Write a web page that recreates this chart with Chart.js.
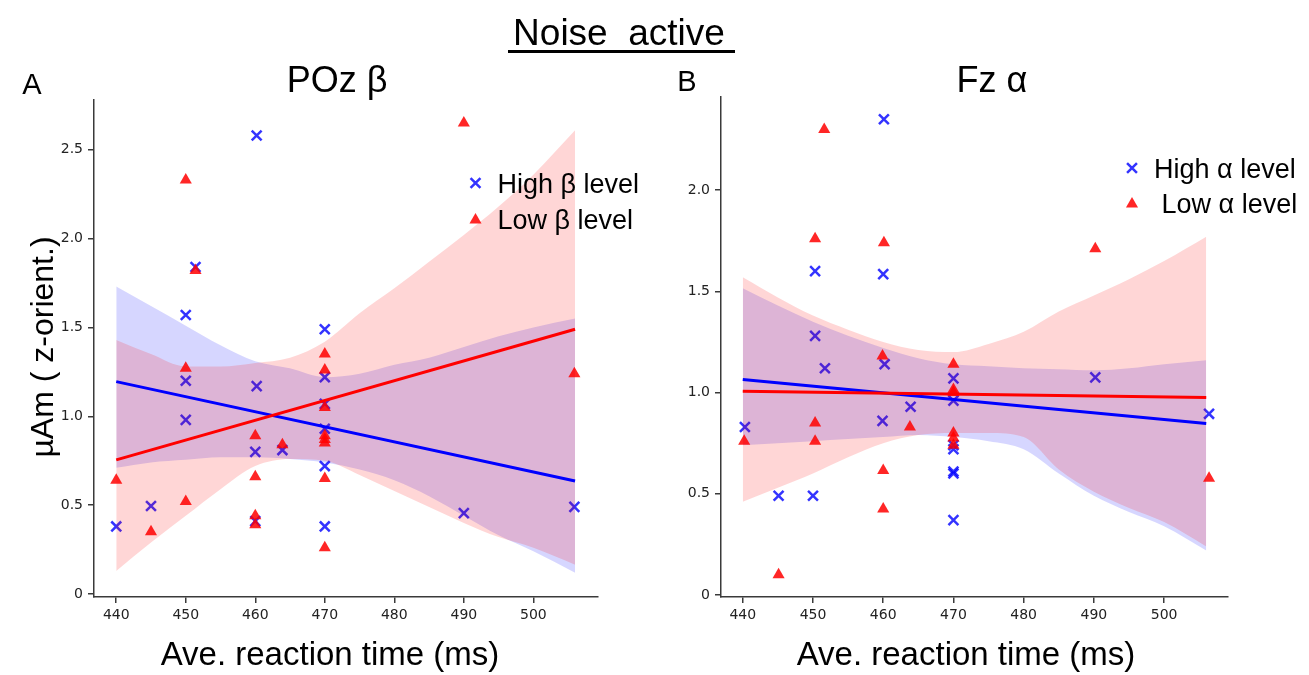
<!DOCTYPE html>
<html>
<head>
<meta charset="utf-8">
<script src="https://cdn.jsdelivr.net/npm/chart.js@4.4.1/dist/chart.umd.min.js"></script>
<style>
  html, body { margin: 0; padding: 0; background: #fff; }
  #fig { position: relative; width: 1309px; height: 675px; overflow: hidden;
         font-family: "Liberation Sans", Arial, sans-serif; color: #000; }
  #fig canvas { position: absolute; left: 0; top: 0; }
  .t { position: absolute; white-space: pre; line-height: 1; transform: translate(-50%, -50%); }
  #rule { position: absolute; left: 508px; top: 50px; width: 227px; height: 3px; background: #000; }
</style>
</head>
<body>
<div id="fig">
  <canvas id="panelA" width="1309" height="675"></canvas>
  <canvas id="panelB" width="1309" height="675"></canvas>
  <div class="t" id="supTitle" style="left:619px; top:32px; font-size:37px;"></div>
  <div id="rule"></div>
  <div class="t" id="tagA" style="left:32px; top:84px; font-size:29px;"></div>
  <div class="t" id="tagB" style="left:687px; top:81px; font-size:29px;"></div>
  <div class="t" id="titleA" style="left:337px; top:80px; font-size:36px;"></div>
  <div class="t" id="titleB" style="left:992px; top:80px; font-size:36px;"></div>
  <div class="t" id="xLabelA" style="left:330px; top:653px; font-size:33px;"></div>
  <div class="t" id="xLabelB" style="left:966px; top:653px; font-size:33px;"></div>
  <div class="t" id="yLabel" style="left:42px; top:347px; font-size:32px; transform: translate(-50%, -50%) rotate(-90deg);"></div>
</div>

<script>
// ---- text ----
const supTitle = 'Noise  active';
const panelTags = ['A', 'B'];
const panelTitles = ['POz β', 'Fz α'];
const xAxisLabel = 'Ave. reaction time (ms)';
const yAxisLabel = 'µAm ( z-orient.)';
const legendA = ['High β level', 'Low β level'];
const legendB = ['High α level', ' Low α level'];

// ---- ticks ----
const xTicks = [440, 450, 460, 470, 480, 490, 500];
const yTicksA = [0, 0.5, 1.0, 1.5, 2.0, 2.5];
const yTicksB = [0, 0.5, 1.0, 1.5, 2.0];

// x positions where the confidence bands are sampled, and ends of the fit lines
const bandX = [440, 445, 450, 455, 460, 465, 470, 475, 480, 485, 490, 495, 500, 506];
const fitX = [440, 506];

// ---- panel A: POz β ----
const aHighX = [440, 445, 450, 450, 450, 451.4, 460.2, 460.2, 460, 460, 463.9, 470, 470, 470, 470, 470, 470, 490, 505.9];
const aHighY = [0.38, 0.495, 1.57, 1.20, 0.98, 1.84, 2.58, 1.17, 0.80, 0.41, 0.81, 1.49, 1.22, 1.07, 0.93, 0.72, 0.38, 0.455, 0.49];
const aLowX = [440, 445, 450, 450, 450, 451.4, 460, 460, 460, 460, 463.9, 470, 470, 470, 470, 470, 470, 470, 470, 490, 505.9];
const aLowY = [0.64, 0.35, 2.33, 1.27, 0.52, 1.82, 0.89, 0.66, 0.44, 0.39, 0.84, 1.35, 1.26, 1.05, 0.89, 0.87, 0.85, 0.65, 0.26, 2.65, 1.24];
const aHighFit = [1.195, 0.636];
const aLowFit = [0.755, 1.49];
const aHighUpper = [1.73, 1.62, 1.51, 1.40, 1.31, 1.27, 1.22, 1.24, 1.29, 1.33, 1.39, 1.45, 1.50, 1.55];
const aHighLower = [0.71, 0.74, 0.755, 0.77, 0.77, 0.76, 0.74, 0.70, 0.64, 0.55, 0.44, 0.33, 0.24, 0.12];
const aLowUpper = [1.43, 1.35, 1.28, 1.28, 1.30, 1.33, 1.42, 1.58, 1.72, 1.87, 2.02, 2.18, 2.36, 2.61];
const aLowLower = [0.13, 0.29, 0.44, 0.59, 0.72, 0.76, 0.75, 0.67, 0.58, 0.49, 0.40, 0.32, 0.26, 0.165];

// ---- panel B: Fz α ----
const bHighX = [440.3, 445.1, 450, 450.3, 450.3, 451.7, 460.1, 460, 460.2, 459.9, 463.9, 470, 470, 470, 470, 470, 470, 470, 490.2, 506.4];
const bHighY = [0.83, 0.49, 0.49, 1.60, 1.28, 1.12, 2.35, 1.585, 1.14, 0.86, 0.93, 1.07, 0.96, 0.74, 0.72, 0.61, 0.60, 0.37, 1.075, 0.895];
const bLowX = [440.2, 445.1, 450.3, 451.6, 450.3, 450.3, 460.1, 459.9, 460, 460, 463.8, 470, 470, 470, 470, 470, 470, 490.2, 506.4];
const bLowY = [0.76, 0.10, 1.76, 2.30, 0.85, 0.76, 1.74, 1.18, 0.615, 0.425, 0.83, 1.14, 1.015, 1.00, 0.80, 0.775, 0.74, 1.71, 0.577];
const bHighFit = [1.064, 0.847];
const bLowFit = [1.006, 0.975];
const bHighUpper = [1.515, 1.43, 1.35, 1.28, 1.22, 1.17, 1.14, 1.13, 1.12, 1.115, 1.11, 1.12, 1.14, 1.16];
const bHighLower = [0.74, 0.75, 0.76, 0.77, 0.78, 0.79, 0.78, 0.76, 0.72, 0.60, 0.49, 0.41, 0.34, 0.22];
const bLowUpper = [1.57, 1.47, 1.38, 1.31, 1.25, 1.21, 1.20, 1.24, 1.30, 1.40, 1.48, 1.56, 1.65, 1.77];
const bLowLower = [0.46, 0.53, 0.60, 0.68, 0.75, 0.79, 0.80, 0.80, 0.78, 0.62, 0.51, 0.43, 0.36, 0.24];

// ---- HTML text ----
document.getElementById('supTitle').textContent = supTitle;
document.getElementById('tagA').textContent = panelTags[0];
document.getElementById('tagB').textContent = panelTags[1];
document.getElementById('titleA').textContent = panelTitles[0];
document.getElementById('titleB').textContent = panelTitles[1];
document.getElementById('xLabelA').textContent = xAxisLabel;
document.getElementById('xLabelB').textContent = xAxisLabel;
document.getElementById('yLabel').textContent = yAxisLabel;

// ---- colours ----
const BLUE = 'rgb(0,0,255)';
const RED = 'rgb(255,0,0)';
const BLUE_MARK = 'rgba(0,0,255,0.8)';
const RED_MARK = 'rgba(255,0,0,0.85)';
const BLUE_BAND = 'rgba(0,0,255,0.16)';
const RED_BAND = 'rgba(255,0,0,0.16)';
const AXIS = '#3a3a3a';

Chart.defaults.font.family = '"DejaVu Sans", sans-serif';
Chart.defaults.animation = false;

function drawMarker(ctx, style, x, y, r) {
  ctx.save();
  if (style === 'crossRot') {
    const d = r * Math.SQRT1_2;
    ctx.strokeStyle = BLUE_MARK;
    ctx.lineWidth = 2.5;
    ctx.beginPath();
    ctx.moveTo(x - d, y - d); ctx.lineTo(x + d, y + d);
    ctx.moveTo(x + d, y - d); ctx.lineTo(x - d, y + d);
    ctx.stroke();
  } else {
    ctx.fillStyle = RED_MARK;
    ctx.beginPath();
    for (let k = 0; k < 3; k++) {
      const a = -Math.PI / 2 + k * 2 * Math.PI / 3;
      const px = x + r * Math.cos(a), py = y + r * Math.sin(a);
      if (k === 0) ctx.moveTo(px, py); else ctx.lineTo(px, py);
    }
    ctx.closePath();
    ctx.fill();
  }
  ctx.restore();
}

// legend placed inside the plot area
const insetLegend = {
  id: 'insetLegend',
  afterDatasetsDraw(chart, args, opts) {
    const { ctx, chartArea } = chart;
    const mx = chartArea.left + opts.dx;
    opts.labels.forEach((label, i) => {
      const y = chartArea.top + opts.rows[i];
      drawMarker(ctx, i === 0 ? 'crossRot' : 'triangle', mx, y + (i === 0 ? 0 : 1), 7);
      ctx.save();
      ctx.font = '27px "Liberation Sans", Arial, sans-serif';
      ctx.fillStyle = '#000';
      ctx.textBaseline = 'alphabetic';
      ctx.textAlign = 'left';
      ctx.fillText(label, mx + opts.textGap, y + 27 * 0.358);
      ctx.restore();
    });
  }
};

const pts = (xs, ys) => xs.map((x, i) => ({ x, y: ys[i] }));

function makePanel(canvasId, p) {
  const bandLine = {
    showLine: true, pointRadius: 0, borderWidth: 0, borderColor: 'transparent',
    cubicInterpolationMode: 'monotone'
  };
  const datasets = [
    { label: p.legend[0], data: pts(p.highX, p.highY), showLine: false,
      pointStyle: 'crossRot', pointRadius: 7, pointBorderWidth: 2.5,
      pointBorderColor: BLUE_MARK, pointBackgroundColor: BLUE_MARK, order: 60 },
    Object.assign({ label: 'high lower', data: pts(bandX, p.highLower), fill: false, order: 51 }, bandLine),
    Object.assign({ label: 'high upper', data: pts(bandX, p.highUpper), fill: 1,
      backgroundColor: BLUE_BAND, order: 50 }, bandLine),
    { label: p.legend[1], data: pts(p.lowX, p.lowY), showLine: false,
      pointStyle: 'triangle', pointRadius: 7, pointBorderWidth: 0,
      pointBorderColor: RED_MARK, pointBackgroundColor: RED_MARK, order: 40 },
    Object.assign({ label: 'low lower', data: pts(bandX, p.lowLower), fill: false, order: 31 }, bandLine),
    Object.assign({ label: 'low upper', data: pts(bandX, p.lowUpper), fill: 4,
      backgroundColor: RED_BAND, order: 30 }, bandLine),
    { label: 'high fit', data: pts(fitX, p.highFit), showLine: true, pointRadius: 0,
      borderColor: BLUE, borderWidth: 3, fill: false, order: 20 },
    { label: 'low fit', data: pts(fitX, p.lowFit), showLine: true, pointRadius: 0,
      borderColor: RED, borderWidth: 3, fill: false, order: 10 }
  ];

  return new Chart(document.getElementById(canvasId), {
    type: 'scatter',
    data: { datasets },
    options: {
      responsive: false,
      animation: false,
      layout: { padding: p.padding },
      plugins: {
        legend: { display: false },
        tooltip: { enabled: false },
        insetLegend: { labels: p.legend, dx: p.legendDx, rows: p.legendRows, textGap: p.textGap }
      },
      scales: {
        x: {
          type: 'linear', min: p.xMin, max: p.xMax,
          afterFit(scale) { scale.height = 40; },
          afterBuildTicks(scale) { scale.ticks = xTicks.map(v => ({ value: v })); },
          border: { display: true, color: AXIS, width: 1.5 },
          grid: { drawOnChartArea: false, drawTicks: true, tickLength: 6, color: AXIS, lineWidth: 1.5 },
          ticks: { padding: 4, color: '#222', font: { size: 14 }, maxRotation: 0, autoSkip: false,
                   callback: v => String(v) }
        },
        y: {
          type: 'linear', min: p.yMin, max: p.yMax,
          afterFit(scale) { scale.width = 60; },
          afterBuildTicks(scale) { scale.ticks = p.yTicks.map(v => ({ value: v })); },
          border: { display: true, color: AXIS, width: 1.5 },
          grid: { drawOnChartArea: false, drawTicks: true, tickLength: 6, color: AXIS, lineWidth: 1.5 },
          ticks: { padding: 5, color: '#222', font: { size: 14 }, autoSkip: false,
                   callback: v => (v === 0 ? '0' : Number(v).toFixed(1)) }
        }
      }
    },
    plugins: [insetLegend]
  });
}

makePanel('panelA', {
  highX: aHighX, highY: aHighY, lowX: aLowX, lowY: aLowY,
  highFit: aHighFit, lowFit: aLowFit,
  highUpper: aHighUpper, highLower: aHighLower, lowUpper: aLowUpper, lowLower: aLowLower,
  legend: legendA, legendDx: 381.5, legendRows: [83, 119], textGap: 22,
  yTicks: yTicksA, xMin: 436.8, xMax: 509.3, yMin: -0.017, yMax: 2.78,
  padding: { left: 34, top: 100, right: 711, bottom: 38 }
});

makePanel('panelB', {
  highX: bHighX, highY: bHighY, lowX: bLowX, lowY: bLowY,
  highFit: bHighFit, lowFit: bLowFit,
  highUpper: bHighUpper, highLower: bHighLower, lowUpper: bLowUpper, lowLower: bLowLower,
  legend: legendB, legendDx: 411, legendRows: [71, 106], textGap: 22,
  yTicks: yTicksB, xMin: 436.9, xMax: 509.1, yMin: -0.01, yMax: 2.46,
  padding: { left: 661, top: 97, right: 81, bottom: 38 }
});
</script>
</body>
</html>
